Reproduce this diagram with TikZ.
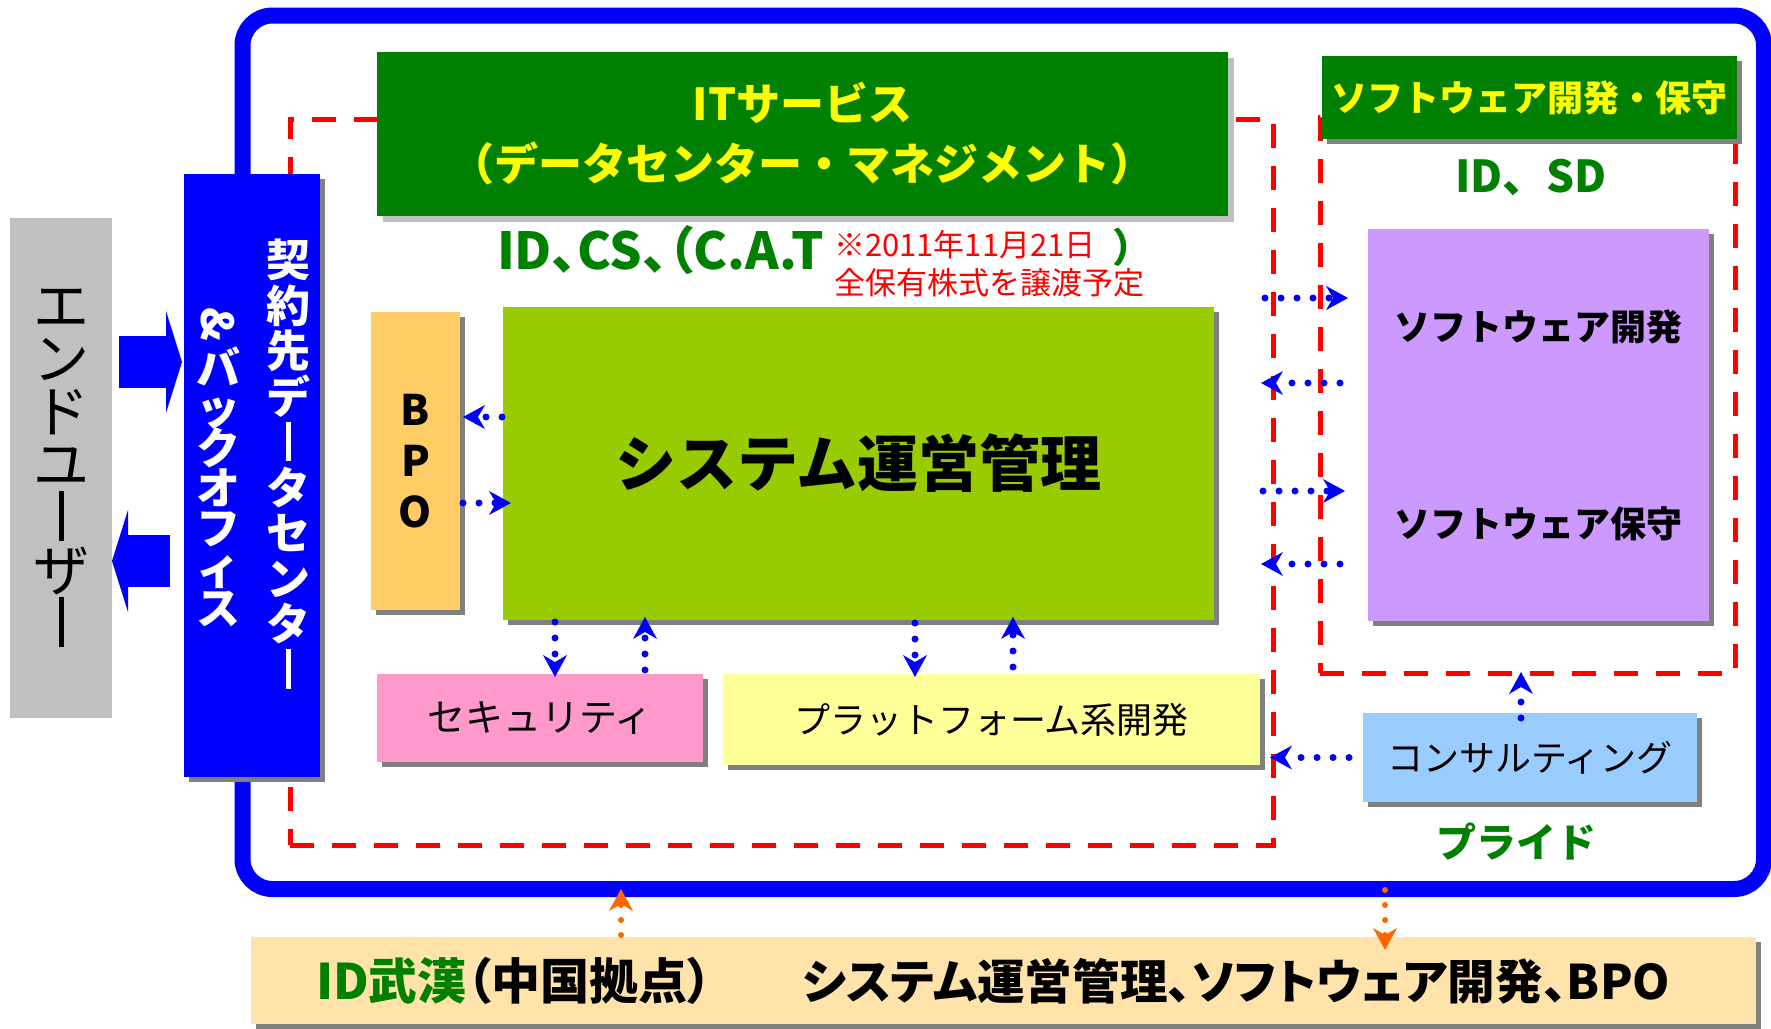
\documentclass[tikz,border=0pt]{standalone}
\usepackage{fontspec}
\setmainfont{Noto Sans CJK JP}
\usetikzlibrary{arrows.meta,shadows}

\definecolor{frameblue}{HTML}{0000FF}
\definecolor{dashred}{HTML}{FF0000}
\definecolor{titlegreen}{HTML}{008000}
\definecolor{titleyellow}{HTML}{FFFF00}
\definecolor{usergray}{HTML}{C0C0C0}
\definecolor{bpoorange}{HTML}{FFCC66}
\definecolor{sysgreen}{HTML}{99CC00}
\definecolor{secpink}{HTML}{FF99CC}
\definecolor{platyellow}{HTML}{FFFF99}
\definecolor{softpurple}{HTML}{CC99FF}
\definecolor{consblue}{HTML}{99CCFF}
\definecolor{wuhantan}{HTML}{FFE3AA}
\definecolor{shadowgray}{HTML}{808080}
\definecolor{lightshadow}{HTML}{C0C0C0}
\definecolor{arroworange}{HTML}{FF6600}

\newcommand\fs[2]{\fontsize{#1}{#2}\selectfont\lineskiplimit=-100pt\relax}
\newcommand\vbar[1]{\rule[-0.06em]{#1}{0.9em}}
\newcommand\prop{\addfontfeatures{RawFeature=+palt}}

\tikzset{
  block/.style={inner sep=0pt, outer sep=0pt, align=center},
  dropgray/.style={drop shadow={shadow xshift=5pt, shadow yshift=-5pt, fill=shadowgray, opacity=1}},
  droplight/.style={drop shadow={shadow xshift=6pt, shadow yshift=-6pt, fill=lightshadow, opacity=1}},
  region/.style={draw=dashred, line width=5pt, dash pattern=on 24pt off 18pt, inner sep=0pt, outer sep=0pt},
  dotarrow/.style={draw=frameblue, line width=7pt, line cap=round, dash pattern=on 0pt off 16pt,
    -{Stealth[length=22pt, width=24pt, inset=7pt, line width=0pt]}},
  orangearrow/.style={dotarrow, draw=arroworange, line width=6pt, dash pattern=on 0pt off 15pt},
  bigarrow/.style={draw=frameblue, line width=52pt, -{Triangle[length=16pt, width=102pt, line width=0pt]}},
}

\begin{document}
\begin{tikzpicture}[x=1pt,y=-1pt]
  \fill[white, use as bounding box] (0,0) rectangle (1771,1028);

  % frame and dashed regions
  \node[block, draw=frameblue, line width=16pt, rounded corners=30pt,
    minimum width=1521.5pt, minimum height=873.5pt] (outer) at (1003.25,452.25) {};
  \node[region, minimum width=983pt, minimum height=726pt] (grpA) at (781.5,482) {};
  \node[region, minimum width=415pt, minimum height=556pt] (grpB) at (1527.5,395) {};

  % end user and contract side
  \node[block, fill=usergray, minimum width=102pt, minimum height=500pt, font=\fs{56}{53}]
    (user) at (61,468) {エ\\ン\\ド\\ユ\\\vbar{5pt}\\ザ\\\vbar{5pt}};
  \node[block, fill=frameblue, dropgray, minimum width=136pt, minimum height=603pt] (dc) at (252,475.5) {};
  \node[block, text=white, font=\bfseries\fs{44}{45.5}]
    (dcright) at (288,464) {契\\約\\先\\デ\\\vbar{5pt}\\タ\\セ\\ン\\タ\\\vbar{5pt}};
  \node[block, text=white, font=\bfseries\fs{44}{40}]
    (dcleft) at (218,467) {\rotatebox[origin=c]{-90}{\&}\\[4pt]バ\\ッ\\ク\\オ\\フ\\ィ\\ス};

  % IT services
  \node[block, fill=titlegreen, droplight, minimum width=851pt, minimum height=164pt,
    text=titleyellow, font=\bfseries\fs{44}{60}] (itsv) at (802.5,134)
    {ITサービス\\（データセンター・マネジメント）};
  \node[block, anchor=base west, text=titlegreen, font=\bfseries\fs{51}{56}\prop] (itsvco) at (497,269) {ID、CS、（C.A.T};
  \node[block, anchor=base west, text=dashred, font=\fs{31}{37}] (catdate) at (834,256) {※2011年11月21日};
  \node[block, anchor=base west, text=dashred, font=\fs{31}{37}] (catnote) at (834,294) {全保有株式を譲渡予定};
  \node[block, anchor=base west, text=titlegreen, font=\bfseries\fs{40}{50}] (catclose) at (1112,262) {）};

  \node[block, fill=bpoorange, dropgray, minimum width=89pt, minimum height=298pt,
    font=\bfseries\fs{42}{51}] (bpo) at (415.5,461) {B\\P\\O};
  \node[block, fill=sysgreen, dropgray, minimum width=711pt, minimum height=313pt,
    font=\bfseries\fs{61}{70}] (sys) at (858.5,463.5) {システム運営管理};
  \node[block, fill=secpink, dropgray, minimum width=326pt, minimum height=88pt,
    font=\fs{38}{44}] (sec) at (540,718) {セキュリティ};
  \node[block, fill=platyellow, dropgray, minimum width=537pt, minimum height=91pt,
    font=\fs{36}{44}] (plat) at (991.5,719.5) {プラットフォーム系開発};

  % software development and maintenance
  \node[block, fill=titlegreen, dropgray, minimum width=415pt, minimum height=83pt,
    text=titleyellow, font=\bfseries\fs{36}{40}] (swg) at (1529.5,97.5) {ソフトウェア開発・保守};
  \node[block, text=titlegreen, font=\bfseries\fs{44}{50}] (swgco) at (1531,177) {ID、SD};
  \node[block, fill=softpurple, dropgray, minimum width=341pt, minimum height=392pt,
    font=\bfseries\fs{36}{197}] (soft) at (1538.5,425) {ソフトウェア開発\\ソフトウェア保守};
  \node[block, fill=consblue, dropgray, minimum width=334pt, minimum height=89pt,
    font=\fs{36}{44}] (cons) at (1530,757.5) {コンサルティング};
  \node[block, text=titlegreen, font=\bfseries\fs{40}{50}] (consco) at (1516,842) {プライド};

  % Wuhan
  \node[block, fill=wuhantan, dropgray, minimum width=1505pt, minimum height=87pt] (wuhan) at (1003.5,980.5) {};
  \node[block, anchor=base west, font=\bfseries\fs{49}{54}\prop] (wuhanname) at (316,999)
    {\textcolor{titlegreen}{ID武漢}（中国拠点）};
  \node[block, anchor=base west, font=\bfseries\fs{47.6}{54}\prop] (wuhanwork) at (802,999)
    {システム運営管理、ソフトウェア開発、BPO};

  % connectors
  \draw[bigarrow, shorten <=7pt, shorten >=2pt] (user.east |- 0,362) -- (dc.west |- 0,362);
  \draw[bigarrow, shorten <=14pt] (dc.west |- 0,561) -- (user.east |- 0,561);

  \draw[dotarrow, shorten <=1pt, shorten >=3pt] (sys.west |- 0,417) -- (bpo.east |- 0,417);
  \draw[dotarrow, shorten <=3pt, shorten >=-8pt] (bpo.east |- 0,503) -- (sys.west |- 0,503);

  \draw[dotarrow, shorten <=2pt, shorten >=-3pt] (sys.south -| 555,0) -- (sec.north -| 555,0);
  \draw[dotarrow, shorten <=4pt, shorten >=-3pt] (sec.north -| 645,0) -- (sys.south -| 645,0);
  \draw[dotarrow, shorten <=3pt, shorten >=-3pt] (sys.south -| 915,0) -- (plat.north -| 915,0);
  \draw[dotarrow, shorten <=7pt, shorten >=-3pt] (plat.north -| 1013,0) -- (sys.south -| 1013,0);

  \draw[dotarrow, shorten <=-8pt, shorten >=20pt] (grpA.east |- 0,298) -- (soft.west |- 0,298);
  \draw[dotarrow, shorten <=28pt, shorten >=-12pt] (soft.west |- 0,383) -- (grpA.east |- 0,383);
  \draw[dotarrow, shorten <=-10pt, shorten >=23pt] (grpA.east |- 0,491) -- (soft.west |- 0,491);
  \draw[dotarrow, shorten <=28pt, shorten >=-12pt] (soft.west |- 0,564) -- (grpA.east |- 0,564);

  \draw[dotarrow, shorten <=14pt, shorten >=-3pt] (cons.west) -- (grpA.east |- cons.west);
  \draw[dotarrow, shorten <=-5pt, shorten >=-1pt] (cons.north -| 1521,0) -- (grpB.south -| 1521,0);

  \draw[orangearrow, shorten <=2pt] (wuhan.north -| 621,0) -- (outer.south -| 621,0);
  \draw[orangearrow, shorten <=1pt, shorten >=-13pt] (outer.south -| 1385,0) -- (wuhan.north -| 1385,0);
\end{tikzpicture}
\end{document}
